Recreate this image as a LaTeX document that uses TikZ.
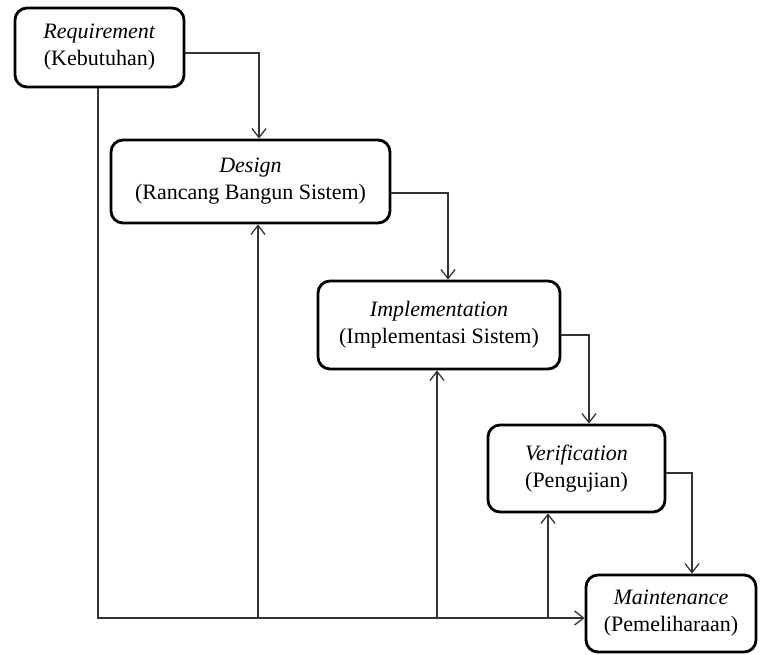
\documentclass[tikz,border=0pt]{standalone}
\usepackage{fontspec}
\setmainfont{Liberation Serif}
\usetikzlibrary{arrows.meta,calc}
\begin{document}
\begin{tikzpicture}[x=1pt,y=-1pt,
  box/.style={draw=black,line width=2.8pt,rounded corners=12pt,fill=white,
    align=center,inner sep=0pt,font=\fontsize{22}{27}\selectfont},
  conn/.style={draw=black!80,line width=1.3pt},
  arr/.style={conn,-{Straight Barb[length=9pt,width=14pt,line width=1.3pt]}}]
\useasboundingbox (0,0) rectangle (762,654);
\node[box,minimum width=169pt,minimum height=79pt] (req) at (99.5,47.5) {\textit{Requirement}\\(Kebutuhan)};
\node[box,minimum width=279pt,minimum height=83pt] (des) at (250.5,181.5) {\textit{Design}\\(Rancang Bangun Sistem)};
\node[box,minimum width=242pt,minimum height=88pt] (imp) at (439,325) {\textit{Implementation}\\(Implementasi Sistem)};
\node[box,minimum width=177pt,minimum height=87pt] (ver) at (576.5,468.5) {\textit{Verification}\\(Pengujian)};
\node[box,minimum width=170pt,minimum height=77pt] (mnt) at (671,613.5) {\textit{Maintenance}\\(Pemeliharaan)};
% forward flow
\coordinate (a1) at (259,53);
\coordinate (a2) at (448,193);
\coordinate (a3) at (589,335);
\coordinate (a4) at (692,473);
\draw[arr] (req.east |- a1) -| (des.north -| a1);
\draw[arr] (des.east |- a2) -| (imp.north -| a2);
\draw[arr] (imp.east |- a3) -| (ver.north -| a3);
\draw[arr] (ver.east |- a4) -| (mnt.north -| a4);
% feedback bus
\coordinate (bus) at (98,618);
\coordinate (u1) at (258,618);
\coordinate (u2) at (437,618);
\coordinate (u3) at (548,618);
\draw[arr] (req.south -| bus) -- (bus) -- (mnt.west |- bus);
\draw[arr] (u1) -- (des.south -| u1);
\draw[arr] (u2) -- (imp.south -| u2);
\draw[arr] (u3) -- (ver.south -| u3);
\end{tikzpicture}
\end{document}
